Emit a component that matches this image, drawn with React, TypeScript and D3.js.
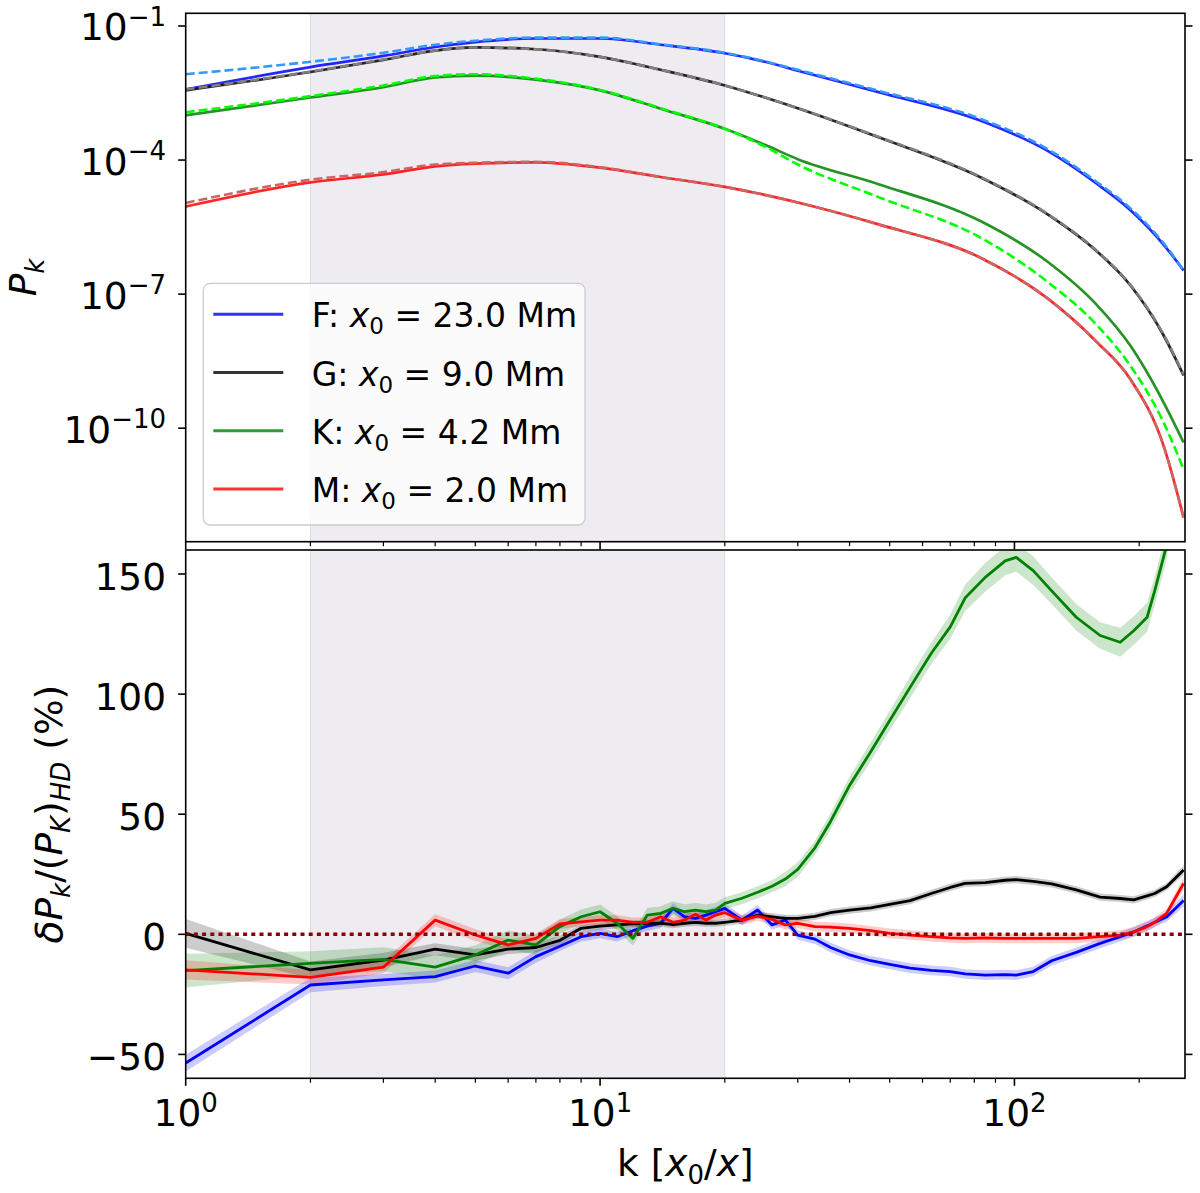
import * as d3 from "d3";

const W = 1200;
const H = 1193;
const LEFT = 185.7;
const RIGHT = 1185;
const TOP_Y0 = 13.3;
const TOP_Y1 = 541.7;
const BOT_Y0 = 550;
const BOT_Y1 = 1078.3;
const FONT = "DejaVu Sans, Verdana, sans-serif";
const TICK_FS = 37.5;
const SUP_FS = 26;

// shaded band (k range used for the fit)
const shadeRange = [2, 20];

// ---- top panel: log10(P_k) ----
const kTop = [1, 2, 3, 4, 5, 7, 10, 14, 20, 25, 30, 47, 83, 120, 158, 190, 229, 256];
const logP_F = [-2.42, -1.92, -1.67, -1.47, -1.36, -1.28, -1.28, -1.42, -1.61, -1.8, -2.0, -2.48, -3.12, -3.79, -4.53, -5.11, -5.89, -6.47];
const logP_F_hd = [-2.08, -1.8, -1.6, -1.42, -1.33, -1.26, -1.26, -1.41, -1.6, -1.79, -1.98, -2.45, -3.08, -3.75, -4.49, -5.07, -5.86, -6.47];
const logP_G = [-2.44, -2.03, -1.76, -1.55, -1.48, -1.52, -1.69, -1.98, -2.33, -2.6, -2.84, -3.49, -4.39, -5.21, -6.04, -6.79, -7.92, -8.82];
const logP_G_hd = [-2.42, -2.02, -1.75, -1.55, -1.48, -1.52, -1.69, -1.98, -2.33, -2.6, -2.84, -3.48, -4.38, -5.2, -6.03, -6.78, -7.9, -8.8];
const logP_K = [-3.0, -2.6, -2.37, -2.15, -2.11, -2.2, -2.44, -2.85, -3.3, -3.66, -3.98, -4.54, -5.37, -6.27, -7.24, -8.14, -9.42, -10.32];
const logP_K_hd = [-2.93, -2.57, -2.33, -2.12, -2.08, -2.18, -2.43, -2.84, -3.3, -3.7, -4.1, -4.83, -5.74, -6.72, -7.69, -8.59, -9.87, -10.92];
const logP_M = [-5.04, -4.5, -4.32, -4.14, -4.08, -4.05, -4.17, -4.38, -4.6, -4.78, -4.95, -5.44, -6.19, -7.09, -8.07, -8.89, -10.39, -12.0];
const logP_M_hd = [-4.96, -4.44, -4.27, -4.1, -4.06, -4.04, -4.16, -4.38, -4.6, -4.78, -4.95, -5.44, -6.19, -7.09, -8.07, -8.89, -10.39, -12.0];

const topTicks = [1e-1, 1e-4, 1e-7, 1e-10];
const topTickExp = ["\u22121", "\u22124", "\u22127", "\u221210"];

// ---- bottom panel: relative difference (%) ----
const kBot = [1, 2, 3, 4, 5, 6, 7, 8, 9, 10, 11, 12, 13, 14, 15, 16, 17, 18, 19, 20, 22, 24, 26, 28, 30, 33, 36, 40, 45, 50, 56, 63, 70, 76, 85, 95, 101, 111, 123, 141, 161, 180, 194, 209, 218, 233, 256];
const dF = [-53.6, -21.1, -19.0, -17.6, -13.2, -16.2, -9.3, -5.0, -1.0, 0.4, -1.0, 1.5, 3.4, 4.6, 10.8, 7.3, 6.6, 8.0, 9.4, 10.8, 5.9, 10.1, 3.9, 5.9, -0.3, -2.0, -5.5, -8.6, -11.0, -12.5, -14.1, -15.0, -15.5, -16.5, -17.0, -16.8, -17.0, -15.5, -11.0, -7.5, -3.8, -1.0, 1.0, 3.5, 5.0, 7.2, 14.1];
const dG = [0.4, -14.8, -10.7, -6.2, -8.6, -6.2, -5.5, -2.5, 2.5, 3.4, 3.9, 4.3, 4.6, 4.6, 4.0, 4.6, 5.0, 4.6, 4.6, 5.0, 5.9, 8.0, 7.3, 6.6, 6.6, 7.5, 9.0, 10.1, 11.0, 12.5, 14.0, 17.0, 19.5, 21.2, 21.5, 22.5, 22.8, 22.0, 21.0, 18.5, 15.5, 14.9, 14.3, 16.0, 17.0, 19.8, 26.8];
const dK = [-15.1, -12.1, -10.4, -13.7, -8.6, -2.4, -4.4, 3.2, 7.3, 9.4, 4.6, -1.7, 8.0, 8.7, 10.8, 9.4, 10.1, 9.4, 10.1, 12.9, 15.0, 17.5, 20.0, 23.0, 27.0, 36.0, 47.0, 62.0, 76.0, 89.0, 102.8, 117.0, 128.0, 140.0, 148.6, 155.5, 156.9, 151.4, 143.0, 132.0, 124.4, 121.6, 126.4, 132.0, 143.0, 162.0, 215.0];
const dM = [-14.8, -17.9, -13.7, 5.9, -0.3, -4.4, -1.7, 4.3, 5.2, 5.9, 5.9, 5.0, 5.0, 7.3, 5.0, 5.9, 8.4, 5.9, 8.0, 9.0, 5.9, 7.6, 6.2, 3.9, 4.6, 3.2, 3.0, 2.5, 1.5, 0.4, -0.3, -1.0, -1.5, -1.7, -1.5, -1.7, -1.7, -1.7, -1.7, -1.7, -1.0, -0.3, 1.0, 3.2, 5.0, 8.7, 21.2];
// half-width of the shaded uncertainty band
const eF = [3.5, 3, 2.5, 2.5, 2.5, 2.5, 2.5, 2, 2, 2, 2, 2, 2, 2, 2, 2, 2, 2, 2, 2, 2, 2, 2, 2, 2, 2, 2, 2, 2, 2, 2, 2, 2, 2, 2, 2, 2, 2, 2, 2, 2, 2, 2, 2, 2, 2, 2.5];
const eG = [6, 3.5, 3, 2.5, 2.5, 2, 2, 2, 1.5, 1.5, 1.5, 1.5, 1.5, 1.5, 1.5, 1.5, 1.5, 1.5, 1.5, 1.5, 1.5, 1.5, 1.5, 1.5, 1.5, 1.5, 1.5, 1.5, 1.5, 1.5, 1.5, 1.5, 1.5, 1.5, 1.5, 1.5, 1.5, 1.5, 1.5, 1.5, 1.5, 1.5, 1.5, 1.5, 1.5, 1.5, 2];
const eK = [7, 5, 5, 5, 4, 4, 4, 3, 3, 3, 3, 3, 3, 3, 3, 3, 3, 3, 3, 2.5, 2.5, 2.5, 2.5, 3, 3, 3, 3.5, 3.5, 4, 4, 4.5, 4.5, 5, 5.5, 6, 6, 6, 6, 5.5, 5.5, 5.5, 6, 6, 6, 6, 6, 6];
const eM = [4, 3, 2.5, 2.5, 2.5, 2, 2, 2, 2, 2, 2, 2, 2, 2, 2, 2, 2, 2, 2, 2, 2, 2, 2, 2, 2, 2, 2, 2, 2, 2, 2, 2, 2, 2, 2, 2, 2, 2, 2, 2, 2, 2, 2, 2, 2, 2, 2.5];
const botTicks = [-50, 0, 50, 100, 150];

// legend
const runNames = ["F", "G", "K", "M"];
const runX0 = ["23.0", "9.0", "4.2", "2.0"];
const runColors = ["#0000ff", "#000000", "#008000", "#ff0000"];
const hdColors = ["#3399ff", "#808080", "#00ff00", "#cc6666"];
const bandColors = ["#0000ff", "#000000", "#008000", "#ff0000"];

export default function App() {
  const x = d3.scaleLog().domain([1, 258]).range([LEFT, RIGHT]);
  const yTop = d3.scaleLog().domain([10 ** -12.54, 10 ** -0.716]).range([TOP_Y1, TOP_Y0]);
  const yBot = d3.scaleLinear().domain([-59.95, 160]).range([BOT_Y1, BOT_Y0]);

  const topLine = d3
    .line<number>()
    .x((_, i) => x(kTop[i]))
    .y((v) => yTop(10 ** v))
    .curve(d3.curveMonotoneX);

  const botLine = d3
    .line<number>()
    .x((_, i) => x(kBot[i]))
    .y((v) => yBot(v));

  const band = (vals: number[], errs: number[]) =>
    d3
      .area<number>()
      .x((_, i) => x(kBot[i]))
      .y0((v, i) => yBot(v - errs[i]))
      .y1((v, i) => yBot(v + errs[i]))(vals);

  const topSolid = [logP_F, logP_G, logP_K, logP_M];
  const topHd = [logP_F_hd, logP_G_hd, logP_K_hd, logP_M_hd];
  const botVals = [dF, dG, dK, dM];
  const botErrs = [eF, eG, eK, eM];

  const xTicks = x.ticks();
  const isMajor = (t: number) => Math.abs(Math.log10(t) - Math.round(Math.log10(t))) < 1e-9;

  const panelFrame = (y0: number, y1: number) => (
    <rect x={LEFT} y={y0} width={RIGHT - LEFT} height={y1 - y0} fill="none" stroke="#000" strokeWidth={1.6} />
  );

  const xTickMarks = (yb: number) =>
    xTicks.map((t) => (
      <line key={t} x1={x(t)} x2={x(t)} y1={yb} y2={yb + (isMajor(t) ? 7.5 : 4.5)} stroke="#000" strokeWidth={isMajor(t) ? 1.6 : 1.2} />
    ));

  const shadeX0 = x(shadeRange[0]);
  const shadeX1 = x(shadeRange[1]);

  return (
    <svg width={W} height={H} style={{ position: "absolute", left: 0, top: 0, background: "#fff" }} fontFamily={FONT}>
      <defs>
        <clipPath id="clipTop">
          <rect x={LEFT} y={TOP_Y0} width={RIGHT - LEFT} height={TOP_Y1 - TOP_Y0} />
        </clipPath>
        <clipPath id="clipBot">
          <rect x={LEFT} y={BOT_Y0} width={RIGHT - LEFT} height={BOT_Y1 - BOT_Y0} />
        </clipPath>
      </defs>

      {/* shaded k-range in both panels */}
      {[
        [TOP_Y0, TOP_Y1],
        [BOT_Y0, BOT_Y1],
      ].map(([a, b], i) => (
        <g key={i}>
          <rect x={shadeX0} y={a} width={shadeX1 - shadeX0} height={b - a} fill="#eeecf0" />
          <line x1={shadeX0} x2={shadeX0} y1={a} y2={b} stroke="#dcd9de" strokeWidth={1} />
          <line x1={shadeX1} x2={shadeX1} y1={a} y2={b} stroke="#dcd9de" strokeWidth={1} />
        </g>
      ))}

      {/* top panel curves */}
      <g clipPath="url(#clipTop)">
        {topSolid.map((s, i) => (
          <path key={"s" + i} d={topLine(s)!} fill="none" stroke={runColors[i]} strokeOpacity={0.85} strokeWidth={2.7} />
        ))}
        {topHd.map((s, i) => (
          <path key={"h" + i} d={topLine(s)!} fill="none" stroke={hdColors[i]} strokeWidth={2.6} strokeDasharray="9,4" />
        ))}
      </g>

      {/* bottom panel */}
      <g clipPath="url(#clipBot)">
        {botVals.map((s, i) => (
          <path key={"b" + i} d={band(s, botErrs[i])!} fill={bandColors[i]} fillOpacity={0.2} stroke="none" />
        ))}
        {botVals.map((s, i) => (
          <path key={"l" + i} d={botLine(s)!} fill="none" stroke={runColors[i]} strokeWidth={2.8} strokeLinejoin="round" />
        ))}
        <line x1={LEFT} x2={RIGHT} y1={yBot(0)} y2={yBot(0)} stroke="#8b0000" strokeWidth={3.5} strokeDasharray="4,4.2" />
      </g>

      {/* frames */}
      {panelFrame(TOP_Y0, TOP_Y1)}
      {panelFrame(BOT_Y0, BOT_Y1)}

      {/* x ticks (top panel bottom edge, bottom panel bottom edge) */}
      {xTickMarks(TOP_Y1)}
      {xTickMarks(BOT_Y1)}
      {xTicks.filter(isMajor).map((t) => (
        <text key={t} x={x(t)} y={1126} textAnchor="middle" fontSize={TICK_FS} fill="#000">
          10
          <tspan dy={-14.5} fontSize={SUP_FS}>
            {Math.round(Math.log10(t))}
          </tspan>
        </text>
      ))}

      {/* top y ticks */}
      {topTicks.map((t, i) => (
        <g key={t}>
          <line x1={LEFT - 7.5} x2={LEFT} y1={yTop(t)} y2={yTop(t)} stroke="#000" strokeWidth={1.6} />
          <line x1={RIGHT} x2={RIGHT + 7.5} y1={yTop(t)} y2={yTop(t)} stroke="#000" strokeWidth={1.6} />
          <text x={166} y={yTop(t) + 14.5} textAnchor="end" fontSize={TICK_FS} fill="#000">
            10
            <tspan dy={-14.5} fontSize={SUP_FS}>
              {topTickExp[i]}
            </tspan>
          </text>
        </g>
      ))}

      {/* bottom y ticks */}
      {botTicks.map((t) => (
        <g key={t}>
          <line x1={LEFT - 7.5} x2={LEFT} y1={yBot(t)} y2={yBot(t)} stroke="#000" strokeWidth={1.6} />
          <line x1={RIGHT} x2={RIGHT + 7.5} y1={yBot(t)} y2={yBot(t)} stroke="#000" strokeWidth={1.6} />
          <text x={166} y={yBot(t) + 15.5} textAnchor="end" fontSize={TICK_FS} fill="#000">
            {t < 0 ? "\u2212" + Math.abs(t) : String(t)}
          </text>
        </g>
      ))}

      {/* legend */}
      <rect x={203.3} y={283.3} width={381.7} height={241.7} rx={7} fill="#fff" fillOpacity={0.8} stroke="#cccccc" strokeWidth={1.3} />
      {runNames.map((n, i) => {
        const cy = 314.3 + i * 58.2;
        return (
          <g key={n}>
            <line x1={213.3} x2={283.3} y1={cy} y2={cy} stroke={runColors[i]} strokeOpacity={0.8} strokeWidth={3} />
            <text x={311.7} y={cy + 13} fontSize={33} fill="#000">
              {n + ": "}
              <tspan fontStyle="italic">x</tspan>
              <tspan fontSize={23} dy={7}>0</tspan>
              <tspan dy={-7}>{" = " + runX0[i] + " Mm"}</tspan>
            </text>
          </g>
        );
      })}

      {/* axis labels */}
      <text transform={`translate(36, ${(TOP_Y0 + TOP_Y1) / 2}) rotate(-90)`} textAnchor="middle" fontSize={TICK_FS} fill="#000">
        <tspan fontStyle="italic">P</tspan>
        <tspan fontStyle="italic" fontSize={SUP_FS} dy={8}>k</tspan>
      </text>
      <text transform={`translate(62, ${(BOT_Y0 + BOT_Y1) / 2}) rotate(-90)`} textAnchor="middle" fontSize={TICK_FS} fill="#000">
        <tspan fontStyle="italic">δP</tspan>
        <tspan fontStyle="italic" fontSize={SUP_FS} dy={8}>k</tspan>
        <tspan dy={-8}>/(</tspan>
        <tspan fontStyle="italic">P</tspan>
        <tspan fontStyle="italic" fontSize={SUP_FS} dy={8}>K</tspan>
        <tspan dy={-8}>)</tspan>
        <tspan fontStyle="italic" fontSize={SUP_FS} dy={8}>HD</tspan>
        <tspan dy={-8}>{" (%)"}</tspan>
      </text>
      <text x={(LEFT + RIGHT) / 2} y={1176} textAnchor="middle" fontSize={TICK_FS} fill="#000">
        {"k ["}
        <tspan fontStyle="italic">x</tspan>
        <tspan fontSize={SUP_FS} dy={8}>0</tspan>
        <tspan dy={-8}>/</tspan>
        <tspan fontStyle="italic">x</tspan>
        <tspan>]</tspan>
      </text>
    </svg>
  );
}
